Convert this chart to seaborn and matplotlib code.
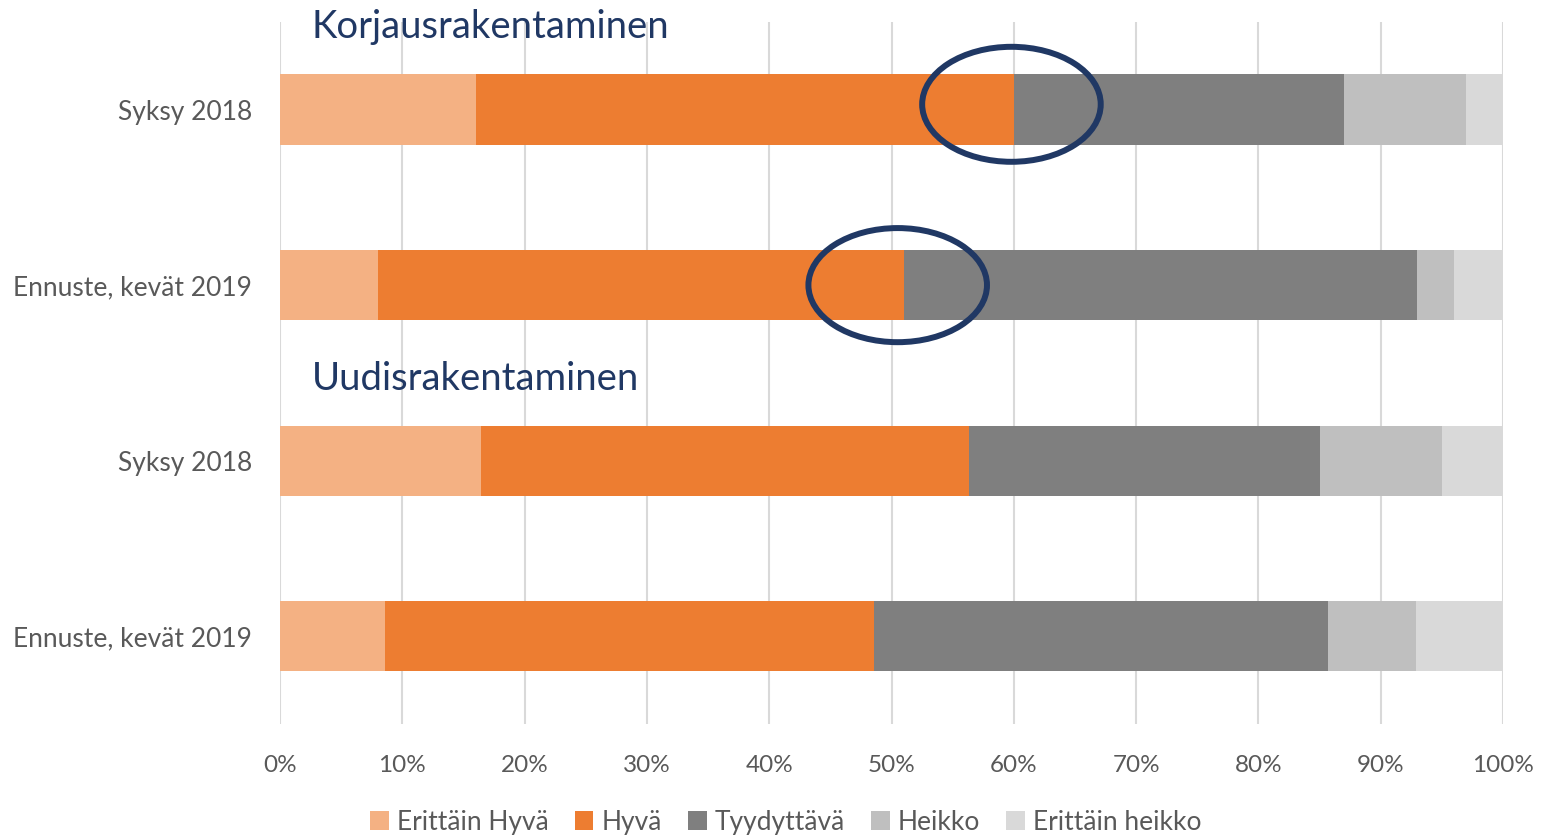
import numpy as np
import pandas as pd
import matplotlib.pyplot as plt
import seaborn as sns
from matplotlib.patches import Ellipse, Patch

sns.set_theme(style="white")
plt.rcParams['font.family'] = ['Lato', 'DejaVu Sans']

# rivit: korjaus syksy, korjaus ennuste, uudis syksy, uudis ennuste
row_labels = ["Syksy 2018", "Ennuste, kevät 2019", "Syksy 2018", "Ennuste, kevät 2019"]
series = ["Erittäin Hyvä", "Hyvä", "Tyydyttävä", "Heikko", "Erittäin heikko"]
erittain_hyva = [16.0, 8.0, 16.4, 8.6]
hyva = [44.0, 43.0, 39.9, 40.0]
tyydyttava = [27.0, 42.0, 28.7, 37.1]
heikko = [10.0, 3.0, 10.0, 7.2]
erittain_heikko = [3.0, 4.0, 5.2, 7.1]
colors = ["#F4B183", "#ED7D31", "#7F7F7F", "#BFBFBF", "#D9D9D9"]
ticks = [0, 10, 20, 30, 40, 50, 60, 70, 80, 90, 100]

df = pd.DataFrame({"rivi": [str(i) for i in range(4)],
                   series[0]: erittain_hyva, series[1]: hyva, series[2]: tyydyttava,
                   series[3]: heikko, series[4]: erittain_heikko})
cum = df[series].cumsum(axis=1)
cum["rivi"] = df["rivi"]

fig = plt.figure(figsize=(15.56, 8.38), dpi=100)
ax = fig.add_axes([0.18, 0.136, 0.786, 0.838])

# pinotut palkit: piirretään kumulatiiviset summat takaperin
for s, c in reversed(list(zip(series, colors))):
    sns.barplot(data=cum, x=s, y="rivi", orient="h", color=c, width=0.4,
                saturation=1, linewidth=0, ax=ax, zorder=2)

ax.set_xlim(0, 100)
ax.set_ylim(3.5, -0.5)
ax.set_xticks(ticks)
ax.set_xticklabels([f"{t}%" for t in ticks])
ax.set_yticks(range(4))
ax.set_yticklabels(row_labels)
ax.set_xlabel("")
ax.set_ylabel("")
ax.grid(axis="x", color="#D9D9D9", linewidth=1.5, zorder=0)
ax.set_axisbelow(True)
for sp in ax.spines.values():
    sp.set_visible(False)
ax.tick_params(axis="x", length=0, pad=22, labelsize=17.5, labelcolor="#595959")
ax.tick_params(axis="y", length=0, pad=20, labelsize=19, labelcolor="#595959")

navy = "#203864"
ax.text(2.6, -0.41, "Korjausrakentaminen", fontsize=27.5, color=navy, va="baseline", zorder=5)
ax.text(2.6, 1.60, "Uudisrakentaminen", fontsize=27.5, color=navy, va="baseline", zorder=5)

ax.add_patch(Ellipse((59.8, -0.03), 14.6, 0.655, fill=False, edgecolor=navy, linewidth=4.3, zorder=6))
ax.add_patch(Ellipse((50.5, 1.0), 14.6, 0.65, fill=False, edgecolor=navy, linewidth=4.3, zorder=6))

handles = [Patch(facecolor=c, edgecolor="none", label=s) for s, c in zip(series, colors)]
leg = fig.legend(handles=handles, loc="center", bbox_to_anchor=(0.505, 0.019), ncol=5,
                 frameon=False, fontsize=19, handlelength=0.7, handleheight=0.7,
                 handletextpad=0.3, columnspacing=1.0)
for t in leg.get_texts():
    t.set_color("#595959")

plt.savefig("out.png", dpi=100)
